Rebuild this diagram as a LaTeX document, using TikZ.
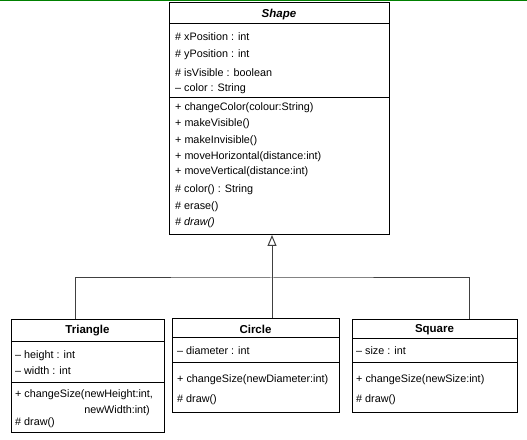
\documentclass[tikz,border=0pt]{standalone}
\usepackage{fontspec}
\setmainfont{Liberation Sans}
\usetikzlibrary{arrows.meta}
\begin{document}
\begin{tikzpicture}[x=1pt,y=1pt,
  box/.style={draw=black, line width=1pt, inner sep=0, anchor=south west},
  txt/.style={anchor=west, inner sep=0, font=\fontsize{10.8}{12}\selectfont},
  ttl/.style={inner sep=0, font=\fontsize{11.5}{13}\selectfont\bfseries},
  sep/.style={draw=black, line width=1pt},
  conn/.style={draw=black!75, line width=1pt}]
\useasboundingbox (0,0) rectangle (527,439);
\draw[green!50!black, line width=1.5pt] (0,438.5) -- (527,438.5);
% Shape
\node[box, minimum width=220pt, minimum height=232pt] (shape) at (169,204) {};
\draw[sep] (169,415) -- (389,415);
\draw[sep] (169,341) -- (389,341);
\node[ttl, font=\fontsize{11.5}{13}\selectfont\bfseries\itshape] (shapet) at (279,424) {Shape};
\node[txt] (s1) at (175,402) {\# xPosition : int};
\node[txt] (s2) at (175,384) {\# yPosition : int};
\node[txt] (s3) at (175,366) {\# isVisible : boolean};
\node[txt] (s4) at (175,350) {– color : String};
\node[txt] (s5) at (175,331) {+ changeColor(colour:String)};
\node[txt] (s6) at (175,315) {+ makeVisible()};
\node[txt] (s7) at (175,298) {+ makeInvisible()};
\node[txt] (s8) at (175,282) {+ moveHorizontal(distance:int)};
\node[txt] (s9) at (175,267) {+ moveVertical(distance:int)};
\node[txt] (s10) at (175,249) {\# color() : String};
\node[txt] (s11) at (175,232) {\# erase()};
\node[txt] (s12) at (175,216) {\itshape \# draw()};
% Triangle
\node[box, minimum width=153pt, minimum height=113pt] (tri) at (11,6) {};
\draw[sep] (11,97) -- (164,97);
\draw[sep] (11,57) -- (164,57);
\node[ttl] (trit) at (87.5,108.5) {Triangle};
\node[txt] (t1) at (15,83) {– height : int};
\node[txt] (t2) at (15,68) {– width : int};
\node[txt] (t3) at (15,44) {+ changeSize(newHeight:int,};
\node[txt, anchor=east] (t4) at (150,28) {newWidth:int)};
\node[txt] (t5) at (15,16) {\# draw()};
% Circle
\node[box, minimum width=167pt, minimum height=94pt] (cir) at (172,26) {};
\draw[sep] (172,101) -- (339,101);
\draw[sep] (172,76) -- (339,76);
\node[ttl] (cirt) at (255.5,109.5) {Circle};
\node[txt] (c1) at (177,88) {– diameter : int};
\node[txt] (c2) at (177,59) {+ changeSize(newDiameter:int)};
\node[txt] (c3) at (177,39) {\# draw()};
% Square
\node[box, minimum width=165pt, minimum height=93pt] (sq) at (352,26) {};
\draw[sep] (352,100) -- (517,100);
\draw[sep] (352,76) -- (517,76);
\node[ttl] (sqt) at (434.5,109.5) {Square};
\node[txt] (q1) at (356,88) {– size : int};
\node[txt] (q2) at (356,59) {+ changeSize(newSize:int)};
\node[txt] (q3) at (356,39) {\# draw()};
% connectors
\coordinate (j) at (272,161);
\coordinate (ta) at ([xshift=64pt]tri.north west);
\coordinate (ca) at ([xshift=100pt]cir.north west);
\coordinate (qa) at ([xshift=117pt]sq.north west);
\draw[conn] (ta) |- (j) -| (qa);
\draw[conn] (ca) -- (j);
\draw[conn, -{Triangle[open, width=9pt, length=11pt]}] (j) -- (j |- shape.south);
\end{tikzpicture}
\end{document}
